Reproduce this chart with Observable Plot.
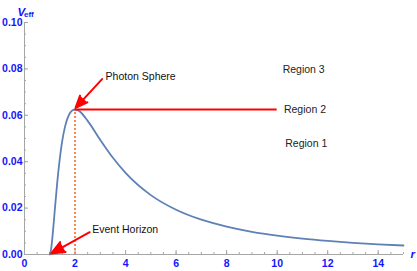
<!DOCTYPE html>
<html><head><meta charset="utf-8">
<script src="https://cdn.jsdelivr.net/npm/d3@7"></script>
<script src="https://cdn.jsdelivr.net/npm/@observablehq/plot@0.6"></script>
<style>body{margin:0;background:#fff;} svg{font-family:"Liberation Sans",Arial,sans-serif;}</style>
</head><body><div id="chart"></div>
<script>
const rValues = [1, 1.05, 1.1, 1.15, 1.2, 1.3, 1.4, 1.5, 1.6, 1.8, 1.9, 2, 2.1, 2.2, 2.5, 3, 3.5, 4, 5, 6, 7, 8, 9, 10, 11, 12, 13, 14, 15];
const vValues = [0, 0.00206, 0.00683, 0.01286, 0.0193, 0.0315, 0.0416, 0.0494, 0.0549, 0.0610, 0.0622, 0.0625, 0.0622, 0.0615, 0.0576, 0.0494, 0.0417, 0.0352, 0.0256, 0.0193, 0.0150, 0.0120, 0.00975, 0.0081, 0.00683, 0.00584, 0.00504, 0.00440, 0.00387];
const xTicks = [0, 2, 4, 6, 8, 10, 12, 14];
const yTicks = [0, 0.02, 0.04, 0.06, 0.08, 0.10];
const photonSphere = {r: 2, v: 0.0625};
const regionLine = {x1: 2, x2: 10, y: 0.0625};
const regionLabels = [
  {x: 11.05, y: 0.0796, text: "Region 3"},
  {x: 11.1, y: 0.0623, text: "Region 2"},
  {x: 11.15, y: 0.048, text: "Region 1"}
];
const arrows = [
  {x1: 3.07, y1: 0.0756, x2: 2.02, y2: 0.0632},
  {x1: 2.58, y1: 0.0096, x2: 1.05, y2: 0.0004}
];
const notes = [
  {x: 3.21, y: 0.0767, text: "Photon Sphere"},
  {x: 2.68, y: 0.0106, text: "Event Horizon"}
];

const curve = rValues.map((r, i) => ({r, v: vValues[i]}));
const blue = "#1414ff";
const axisGray = "#a6a6a6";

const chart = Plot.plot({
  width: 417, height: 271,
  marginLeft: 24, marginRight: 14, marginTop: 22, marginBottom: 17,
  x: {domain: [0, 15]},
  y: {domain: [0, 0.1]},
  style: {fontFamily: "'Liberation Sans', Arial, sans-serif"},
  marks: [
    Plot.axisX({ticks: d3.range(0, 15.01, 0.5), tickSize: -2, stroke: axisGray, text: null, label: null}),
    Plot.axisX({ticks: xTicks, tickSize: -4, stroke: axisGray, text: null, label: null}),
    Plot.axisX({ticks: xTicks, tickSize: 0, tickPadding: 5, fill: blue, fontWeight: "bold", fontSize: 10.5, label: null}),
    Plot.axisY({ticks: d3.range(0, 0.1001, 0.005), tickSize: -2, stroke: axisGray, text: null, label: null}),
    Plot.axisY({ticks: yTicks, tickSize: -4, stroke: axisGray, text: null, label: null}),
    Plot.axisY({ticks: yTicks, tickSize: 0, tickPadding: 2, fill: blue, fontWeight: "bold", fontSize: 10.5, tickFormat: d3.format(".2f"), label: null}),
    Plot.ruleY([0], {stroke: axisGray}),
    Plot.ruleX([0], {stroke: axisGray}),
    Plot.ruleX([photonSphere], {x: "r", y1: 0, y2: "v", stroke: "#f7884f", strokeWidth: 2, strokeDasharray: "2,2"}),
    Plot.line(curve, {x: "r", y: "v", stroke: "#5e81b5", strokeWidth: 1.8, curve: "monotone-x"}),
    Plot.ruleY([regionLine], {x1: "x1", x2: "x2", y: "y", stroke: "#ff0000", strokeWidth: 2}),
    Plot.arrow(arrows, {x1: "x1", y1: "y1", x2: "x2", y2: "y2", stroke: "#ff0000", fill: "#ff0000", strokeWidth: 2, headLength: 11, headAngle: 45}),
    Plot.text(notes, {x: "x", y: "y", text: "text", textAnchor: "start", fontSize: 10.5, fill: "#111"}),
    Plot.text(regionLabels, {x: "x", y: "y", text: "text", fontSize: 10.5, fill: "#222"}),
    Plot.text(["V"], {frameAnchor: "top-left", dx: -7, dy: -15, text: d => d, fill: blue, fontWeight: "bold", fontStyle: "italic", fontSize: 11.5, textAnchor: "start"}),
    Plot.text(["eff"], {frameAnchor: "top-left", dx: -0.5, dy: -11, text: d => d, fill: blue, fontWeight: "bold", fontSize: 8, textAnchor: "start"}),
    Plot.text(["r"], {frameAnchor: "bottom-right", dx: 7, dy: 3, text: d => d, fill: blue, fontWeight: "bold", fontStyle: "italic", fontSize: 11.5, textAnchor: "start"})
  ]
});
document.getElementById("chart").appendChild(chart);
</script></body></html>
